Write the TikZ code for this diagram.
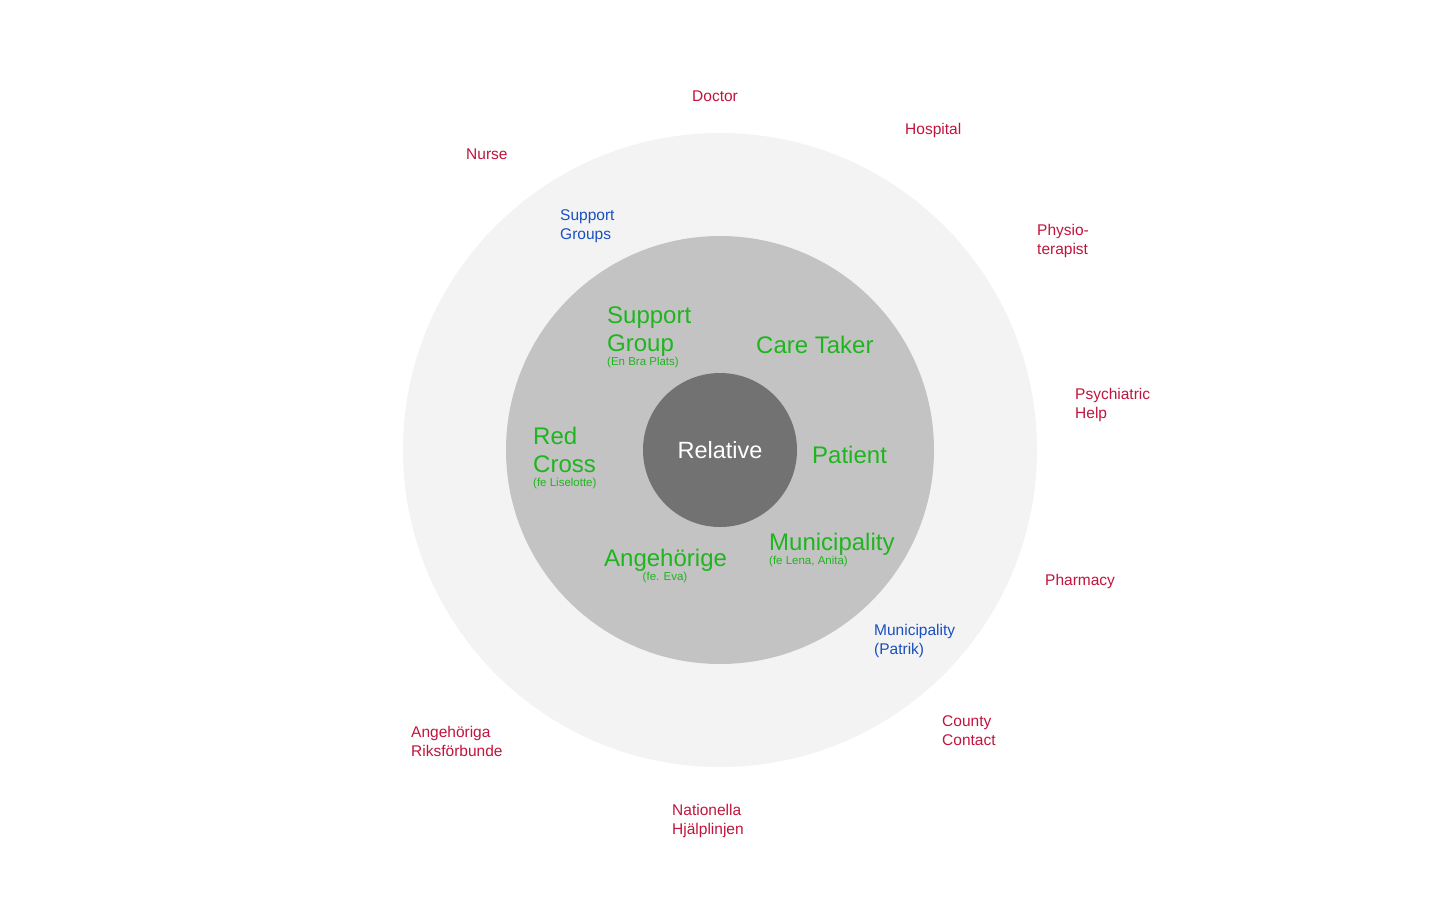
\documentclass[tikz,border=0pt]{standalone}
\usepackage{fontspec}
\setmainfont{Liberation Sans}
\usepackage{tikz,xcolor}
\usetikzlibrary{positioning}

\definecolor{ringout}{HTML}{F3F3F3}
\definecolor{ringmid}{HTML}{C3C3C3}
\definecolor{ringin}{HTML}{727272}
\definecolor{extred}{HTML}{C0143C}
\definecolor{midblue}{HTML}{1A4FBF}
\definecolor{ingreen}{HTML}{1FB51F}

\tikzset{
	lbl/.style={inner sep=0pt, anchor=base west, align=left},
	outer/.style={lbl, text=extred, font=\fontsize{15.5}{19}\selectfont},
	middle/.style={lbl, text=midblue, font=\fontsize{15.5}{19}\selectfont},
	inner/.style={lbl, text=ingreen, font=\fontsize{24}{28}\selectfont},
	note/.style={inner sep=0pt, anchor=base west, text=ingreen, font=\fontsize{11.5}{13}\selectfont},
}

\begin{document}
\begin{tikzpicture}[x=1pt,y=-1pt]
	\useasboundingbox (0,0) rectangle (1440,900);
	
	% rings
	\fill [ringout](720,450) circle (317pt);
	\fill [ringmid](720,450) circle (214pt);
	\node (rel) at (720,450)[circle,fill=ringin,minimum size=154pt,inner sep=0pt,text=white,font=\fontsize{23.5}{28}\selectfont]{Relative};
	
	% inner ring
	\node (sgroup) at (607,351.5)[inner]{Support\\Group};
	\node (sgnote) at (607,365)[note]{(En Bra Plats)};
	\node (care) at (756,353.5)[inner]{Care Taker};
	\node (redx) at (533,472.5)[inner]{Red\\Cross};
	\node (rxnote) at (533,486)[note]{(fe Liselotte)};
	\node (patient) at (812,463.5)[inner]{Patient};
	\node (muni) at (769,550.5)[inner]{Municipality};
	\node (munote) at (769,564)[note]{(fe Lena, Anita)};
	\node (angh) at (604,566.5)[inner]{Angeh\"orige};
	\node (annote) at (665,580)[note,anchor=base]{(fe. Eva)};
	
	% middle ring
	\node (sgroups) at (560,239)[middle]{Support\\Groups};
	\node (mupat) at (874,654)[middle]{Municipality\\(Patrik)};
	
	% outside
	\node (doctor) at (692,101)[outer]{Doctor};
	\node (hosp) at (905,134)[outer]{Hospital};
	\node (nurse) at (466,159)[outer]{Nurse};
	\node (physio) at (1037,254)[outer]{Physio-\\terapist};
	\node (psych) at (1075,418)[outer]{Psychiatric\\Help};
	\node (pharm) at (1045,585)[outer]{Pharmacy};
	\node (county) at (942,745)[outer]{County\\Contact};
	\node (riks) at (411,756)[outer]{Angeh\"origa\\Riksf\"orbunde};
	\node (natl) at (672,834)[outer]{Nationella\\Hj\"alplinjen};
	
\end{tikzpicture}
\end{document}
